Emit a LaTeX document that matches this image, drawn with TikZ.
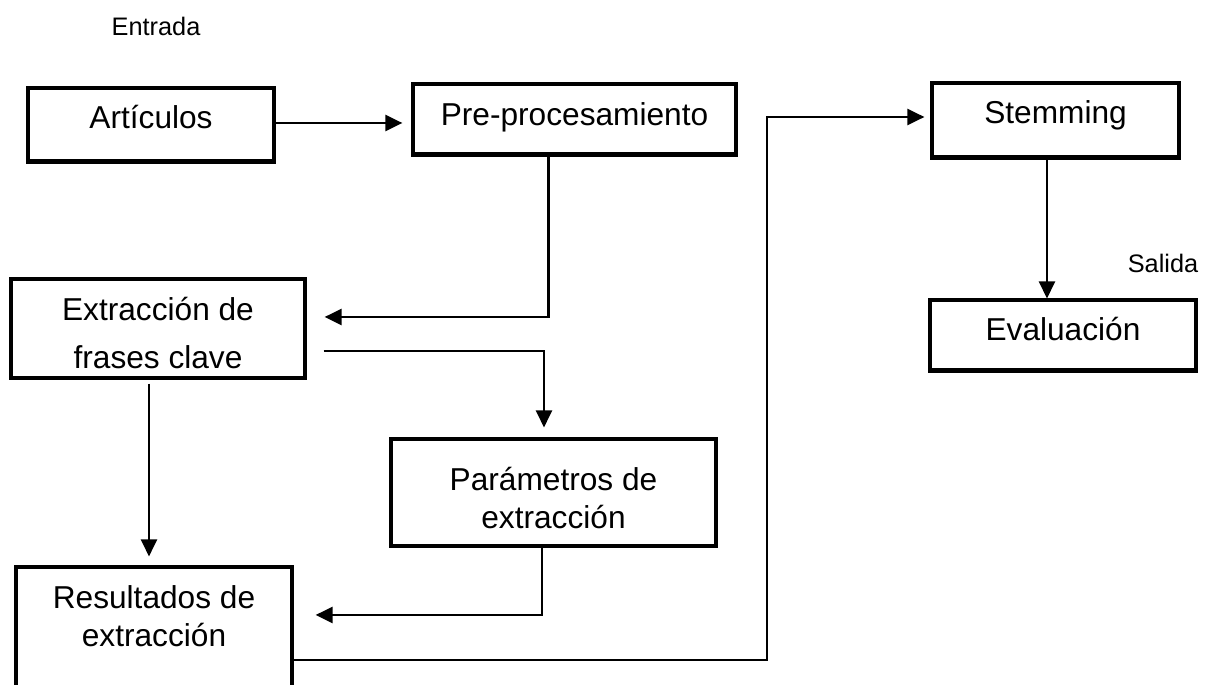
\documentclass[tikz,border=0pt]{standalone}
\usepackage{fontspec}
\setmainfont{Liberation Sans}
\usetikzlibrary{arrows.meta}

\begin{document}
\begin{tikzpicture}[x=0.01cm,y=-0.01cm,
    box/.style={draw,line width=1.15pt,inner sep=2pt,align=center,
      font=\fontsize{9pt}{10.8pt}\selectfont,text height=6.4pt},
    lbl/.style={font=\fontsize{7.2pt}{8.6pt}\selectfont,anchor=base},
    arr/.style={line width=0.7pt,-{Triangle[length=0.17cm,width=0.16cm]}}]
  \useasboundingbox (0,0) rectangle (1205,685);
  \clip (0,0) rectangle (1205,685);
  \node [lbl] (entrada) at (156,36) {Entrada};
  \node [lbl] (salida) at (1163,273) {Salida};
  \node [box,minimum width=2.45cm,minimum height=0.73cm,text depth=4.3pt] (art) at (151,125) {Artículos};
  \node [box,minimum width=3.22cm,minimum height=0.70cm,text depth=3.1pt] (pre) at (574.5,119.5) {Pre-procesamiento};
  \node [box,minimum width=2.46cm,minimum height=0.74cm,text depth=4.5pt] (stem) at (1055.5,120.5) {Stemming};
  \node [box,minimum width=2.65cm,minimum height=0.70cm,text depth=3.7pt] (eval) at (1063,335.5) {Evaluación};
  \node [box,minimum width=2.93cm,minimum height=0.98cm,font=\fontsize{9pt}{13.6pt}\selectfont,text height=22.8pt,text depth=0pt] (ext) at (158,328.5) {Extracción de\\frases clave};
  \node [box,minimum width=3.24cm,minimum height=1.06cm,text height=20.3pt,text depth=0pt] (par) at (553.5,492.5) {Parámetros de\\extracción};
  \node [box,minimum width=2.75cm,minimum height=1.40cm,text height=17.2pt,text depth=11.9pt] (res) at (154,637.5) {Resultados de\\extracción};
  \coordinate (turn) at (767,117);
  \draw [arr,shorten >=0.09cm] ([yshift=0.02cm]art.east) -- ([yshift=0.02cm]art.east -| pre.west);
  \draw [arr] ([xshift=-0.26cm]pre.south) |- ([xshift=0.18cm,yshift=0.115cm]ext.east);
  \draw [arr] ([xshift=0.17cm,yshift=-0.225cm]ext.east) -| ([xshift=-0.095cm,yshift=0.1cm]par.north);
  \draw [arr] ([xshift=-0.09cm,yshift=-0.04cm]ext.south) -- ([xshift=-0.09cm,yshift=0.09cm]ext.south |- res.north);
  \draw [arr] ([xshift=-0.115cm]par.south) |- ([xshift=0.22cm,yshift=0.225cm]res.east);
  \draw [arr] ([yshift=-0.225cm]res.east) -| (turn) -- ([xshift=-0.06cm]turn -| stem.west);
  \draw [arr] ([xshift=-0.085cm]stem.south) -- ([xshift=-0.085cm]stem.south |- eval.north);
\end{tikzpicture}
\end{document}
